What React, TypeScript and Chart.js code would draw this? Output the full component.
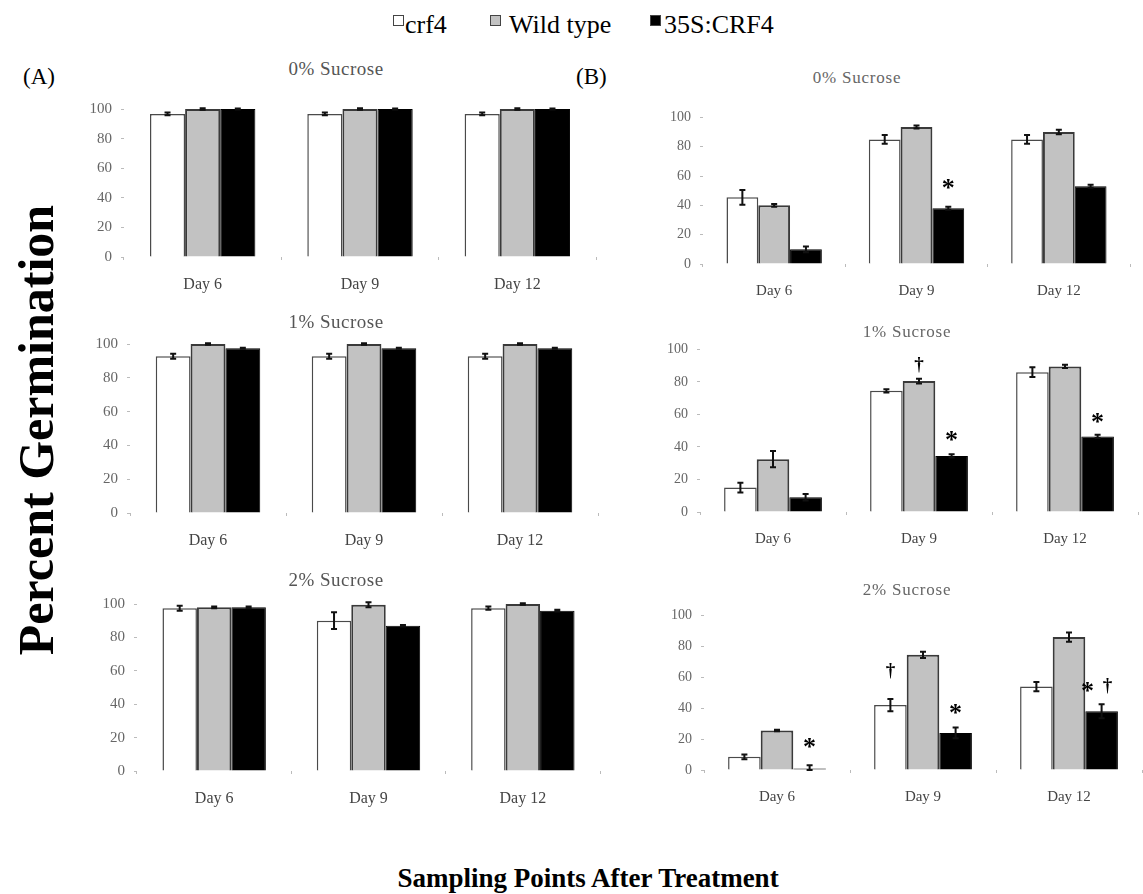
import React, { useEffect, useRef } from "react";
import { Chart, registerables } from "chart.js";

Chart.register(...registerables);

// ---------- DATA ----------
const days = ["Day 6", "Day 9", "Day 12"];
const seriesNames = ["crf4", "Wild type", "35S:CRF4"];
const yMin = 0;
const yMax = 100;
const yStep = 20;

// (A) 0% Sucrose
const a0Crf4 = [96.7, 96.7, 96.7];
const a0Crf4Err = [1, 1, 1];
const a0Wt = [100, 100, 100];
const a0WtErr = [0.5, 0.5, 0.5];
const a0Oe = [100, 100, 100];
const a0OeErr = [0.3, 0.3, 0.3];

// (A) 1% Sucrose
const a1Crf4 = [92.7, 92.7, 92.7];
const a1Crf4Err = [1.5, 1.5, 1.5];
const a1Wt = [100, 100, 100];
const a1WtErr = [0.5, 0.5, 0.5];
const a1Oe = [97.5, 97.5, 97.5];
const a1OeErr = [0.3, 0.3, 0.3];

// (A) 2% Sucrose
const a2Crf4 = [97.5, 90, 97.5];
const a2Crf4Err = [1.5, 5, 1];
const a2Wt = [98, 99.5, 100];
const a2WtErr = [0.5, 1.5, 0.5];
const a2Oe = [98, 87, 96];
const a2OeErr = [0.5, 0.5, 0.5];

// (B) 0% Sucrose
const b0Crf4 = [45.5, 85, 85];
const b0Crf4Err = [5, 3, 3];
const b0Wt = [40, 93.5, 90];
const b0WtErr = [1, 1, 1.5];
const b0Oe = [10, 38, 53];
const b0OeErr = [2, 1, 1];
const b0Marks = [{ day: 1, series: 2, text: "*", value: 56 }];

// (B) 1% Sucrose
const b1Crf4 = [15, 74.5, 86];
const b1Crf4Err = [3, 1, 3];
const b1Wt = [32.5, 80.5, 89.5];
const b1WtErr = [5, 1.5, 1];
const b1Oe = [9, 34.5, 46.5];
const b1OeErr = [2, 1, 1];
const b1Marks = [
  { day: 1, series: 1, text: "†", value: 91 },
  { day: 1, series: 2, text: "*", value: 48 },
  { day: 2, series: 2, text: "*", value: 59 },
];

// (B) 2% Sucrose
const b2Crf4 = [8.5, 42, 54];
const b2Crf4Err = [1.5, 4, 3];
const b2Wt = [25.5, 74.5, 86];
const b2WtErr = [0.5, 2, 3];
const b2Oe = [1, 24, 38];
const b2OeErr = [2, 3.5, 4.5];
const b2Marks = [
  { day: 0, series: 2, text: "*", value: 18.5 },
  { day: 1, series: 0, text: "†", value: 65 },
  { day: 1, series: 2, text: "*", value: 41 },
  { day: 2, series: 2, text: "*†", value: 55 },
];

// ---------- STYLE / LAYOUT ----------
const SERIF = "'Liberation Serif', 'Times New Roman', serif";
const YW = 50;
const PR = 4;
const PT = 14;
const XH = 45;

type Mark = { day: number; series: number; text: string; value: number };
type PanelSpec = {
  area: { l: number; t: number; r: number; b: number };
  values: number[][];
  errors: number[][];
  marks: Mark[];
  yFont: number;
  xFont: number;
};

const panels: PanelSpec[] = [
  { area: { l: 124, t: 105, r: 596, b: 257 }, values: [a0Crf4, a0Wt, a0Oe], errors: [a0Crf4Err, a0WtErr, a0OeErr], marks: [], yFont: 15, xFont: 16 },
  { area: { l: 130, t: 340, r: 598, b: 513 }, values: [a1Crf4, a1Wt, a1Oe], errors: [a1Crf4Err, a1WtErr, a1OeErr], marks: [], yFont: 15, xFont: 16 },
  { area: { l: 137, t: 600, r: 600, b: 771 }, values: [a2Crf4, a2Wt, a2Oe], errors: [a2Crf4Err, a2WtErr, a2OeErr], marks: [], yFont: 15, xFont: 16 },
  { area: { l: 703, t: 114, r: 1130, b: 264 }, values: [b0Crf4, b0Wt, b0Oe], errors: [b0Crf4Err, b0WtErr, b0OeErr], marks: b0Marks, yFont: 14, xFont: 15 },
  { area: { l: 700, t: 346, r: 1138, b: 512 }, values: [b1Crf4, b1Wt, b1Oe], errors: [b1Crf4Err, b1WtErr, b1OeErr], marks: b1Marks, yFont: 14, xFont: 15 },
  { area: { l: 704, t: 612, r: 1142, b: 770 }, values: [b2Crf4, b2Wt, b2Oe], errors: [b2Crf4Err, b2WtErr, b2OeErr], marks: b2Marks, yFont: 14, xFont: 15 },
];

const fills = ["#ffffff", "#c2c2c2", "#000000"];
const borders = ["#4a4a4a", "#3a3a3a", "#000000"];
const borderWidths = [1.5, 2, 1];

const errorBarPlugin = {
  id: "errorBars",
  afterDatasetsDraw(chart: any) {
    const ctx = chart.ctx;
    const y = chart.scales.y;
    chart.data.datasets.forEach((ds: any, i: number) => {
      const meta = chart.getDatasetMeta(i);
      const errs: number[] = ds.errors || [];
      meta.data.forEach((bar: any, j: number) => {
        const v = ds.data[j];
        const e = errs[j];
        if (!e) return;
        const x = bar.x;
        const yt = y.getPixelForValue(v + e);
        const yb = y.getPixelForValue(Math.max(v - e, 0));
        ctx.save();
        ctx.strokeStyle = "#111";
        ctx.lineWidth = 2;
        ctx.beginPath();
        ctx.moveTo(x, yt);
        ctx.lineTo(x, yb);
        ctx.moveTo(x - 3, yt);
        ctx.lineTo(x + 3, yt);
        ctx.moveTo(x - 3, yb);
        ctx.lineTo(x + 3, yb);
        ctx.stroke();
        ctx.restore();
      });
    });
  },
};

function makeMarksPlugin(marks: Mark[]) {
  return {
    id: "sigMarks",
    afterDatasetsDraw(chart: any) {
      const ctx = chart.ctx;
      const y = chart.scales.y;
      marks.forEach((m) => {
        const bar = chart.getDatasetMeta(m.series).data[m.day];
        if (!bar) return;
        const py = y.getPixelForValue(m.value);
        const chars = Array.from(m.text);
        const gap = 20;
        const startX = bar.x - ((chars.length - 1) * gap) / 2 - (chars.length > 1 ? 4 : 0);
        chars.forEach((c, k) => {
          const px = startX + k * gap;
          ctx.save();
          ctx.fillStyle = "#000";
          ctx.textAlign = "center";
          ctx.textBaseline = "alphabetic";
          if (c === "*") {
            ctx.font = `bold 26px ${SERIF}`;
            ctx.fillText(c, px, py + 14);
          } else {
            ctx.font = `bold 19px ${SERIF}`;
            ctx.fillText(c, px, py + 6);
          }
          ctx.restore();
        });
      });
    },
  };
}

function Panel({ spec }: { spec: PanelSpec }) {
  const ref = useRef<HTMLCanvasElement>(null);
  const { l, t, r, b } = spec.area;
  const W = r - l + YW + PR;
  const H = b - t + PT + XH;
  useEffect(() => {
    if (!ref.current) return;
    const chart = new Chart(ref.current, {
      type: "bar",
      data: {
        labels: days,
        datasets: spec.values.map((vals, i) => ({
          label: seriesNames[i],
          data: vals,
          errors: spec.errors[i],
          backgroundColor: fills[i],
          borderColor: borders[i],
          borderWidth: borderWidths[i],
          categoryPercentage: 0.67,
          barPercentage: 1.0,
        })) as any,
      },
      options: {
        responsive: false,
        animation: false,
        devicePixelRatio: 1,
        layout: { padding: { top: PT, right: PR, left: 0, bottom: 0 } },
        plugins: {
          legend: { display: false },
          tooltip: { enabled: false },
          title: { display: false },
        },
        scales: {
          x: {
            grid: { display: true, drawOnChartArea: false, tickLength: 3, color: "#bbbbbb", offset: true },
            border: { display: false },
            ticks: { font: { family: SERIF, size: spec.xFont }, color: "#444", padding: 15 },
            afterFit: (s: any) => {
              s.height = XH;
            },
          },
          y: {
            min: yMin,
            max: yMax,
            ticks: { stepSize: yStep, font: { family: SERIF, size: spec.yFont }, color: "#666", padding: 9 },
            grid: { drawOnChartArea: false, tickLength: 3, color: "#bbbbbb" },
            border: { display: false },
            afterFit: (s: any) => {
              s.width = YW;
            },
          },
        },
      } as any,
      plugins: [errorBarPlugin, makeMarksPlugin(spec.marks)],
    });
    return () => chart.destroy();
  }, []);
  return (
    <canvas
      ref={ref}
      width={W}
      height={H}
      style={{ position: "absolute", left: l - YW, top: t - PT, width: W, height: H }}
    />
  );
}

function Txt(props: {
  x: number;
  y: number;
  size: number;
  bold?: boolean;
  color?: string;
  center?: boolean;
  spacing?: number;
  children: React.ReactNode;
}) {
  const { x, y, size, bold, color, center, spacing, children } = props;
  return (
    <div
      style={{
        position: "absolute",
        left: x,
        top: y - size * 0.53,
        fontFamily: SERIF,
        fontSize: size,
        lineHeight: `${size}px`,
        fontWeight: bold ? "bold" : "normal",
        color: color || "#000",
        whiteSpace: "nowrap",
        letterSpacing: spacing ? `${spacing}px` : undefined,
        transform: center ? "translateX(-50%)" : undefined,
      }}
    >
      {children}
    </div>
  );
}

function Box({ x, y, fill }: { x: number; y: number; fill: string }) {
  return (
    <div
      style={{
        position: "absolute",
        left: x,
        top: y,
        width: 11,
        height: 11,
        boxSizing: "border-box",
        background: fill,
        border: "1px solid #444",
      }}
    />
  );
}

export default function App() {
  return (
    <div
      style={{
        position: "absolute",
        left: 0,
        top: 0,
        width: 1143,
        height: 894,
        overflow: "hidden",
        background: "#fff",
      }}
    >
      {panels.map((p, i) => (
        <Panel key={i} spec={p} />
      ))}

      {/* legend */}
      <Box x={393} y={15} fill={fills[0]} />
      <Txt x={405} y={26} size={26}>{seriesNames[0]}</Txt>
      <Box x={490} y={15} fill={fills[1]} />
      <Txt x={509} y={26} size={26}>{seriesNames[1]}</Txt>
      <Box x={650} y={15} fill={fills[2]} />
      <Txt x={664} y={26} size={26}>{seriesNames[2]}</Txt>

      {/* panel letters */}
      <Txt x={23} y={77} size={23}>(A)</Txt>
      <Txt x={576} y={77} size={23}>(B)</Txt>

      {/* subplot titles */}
      <Txt x={336} y={69} size={19} color="#555" spacing={0.5} center>0% Sucrose</Txt>
      <Txt x={336} y={322} size={19} color="#555" spacing={0.5} center>1% Sucrose</Txt>
      <Txt x={336} y={580} size={19} color="#555" spacing={0.5} center>2% Sucrose</Txt>
      <Txt x={857} y={78} size={17} color="#666" spacing={0.8} center>0% Sucrose</Txt>
      <Txt x={907} y={332} size={17} color="#666" spacing={0.8} center>1% Sucrose</Txt>
      <Txt x={907} y={590} size={17} color="#666" spacing={0.8} center>2% Sucrose</Txt>

      {/* axis titles */}
      <div
        style={{
          position: "absolute",
          left: 36,
          top: 430,
          transform: "translate(-50%, -50%) rotate(-90deg)",
          fontFamily: SERIF,
          fontSize: 50,
          lineHeight: "50px",
          fontWeight: "bold",
          whiteSpace: "nowrap",
          color: "#000",
        }}
      >
        Percent Germination
      </div>
      <Txt x={588} y={879} size={27} bold center>Sampling Points After Treatment</Txt>
    </div>
  );
}
